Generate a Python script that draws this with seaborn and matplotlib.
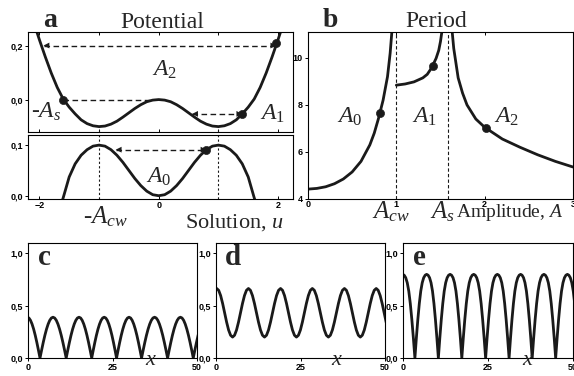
import matplotlib
matplotlib.use("Agg")
import matplotlib.pyplot as plt
import seaborn as sns
from matplotlib.ticker import FuncFormatter

# --- panel a: potential (u >= 0, mirrored) ---
pot_u_half = [0.0, 0.1, 0.2, 0.3, 0.4, 0.5, 0.6, 0.7, 0.8, 0.9, 1.0,
              1.1, 1.2, 1.3, 1.4, 1.5, 1.6, 1.7, 1.8, 1.9, 2.0, 2.1]
pot_top_half = [0.0, -0.002, -0.008, -0.019, -0.033, -0.049, -0.065, -0.080,
                -0.091, -0.098, -0.100, -0.097, -0.089, -0.075, -0.053, -0.028,
                0.002, 0.045, 0.098, 0.158, 0.222, 0.29]
pot_bot_half = [0.0, 0.002, 0.009, 0.020, 0.034, 0.050, 0.066, 0.080, 0.091,
                0.098, 0.100, 0.098, 0.091, 0.080, 0.063, 0.037, -0.004, -0.04]

top_dots_u = [-1.6, 1.4, 1.97]
top_dots_w = [0.0, -0.053, 0.21]
bot_dots_u = [0.8]
bot_dots_v = [0.091]

# --- panel b: period vs amplitude, three branches ---
b0_amp = [0.0, 0.1, 0.2, 0.3, 0.4, 0.5, 0.6, 0.7, 0.75, 0.8, 0.85, 0.9, 0.93, 0.96]
b0_per = [4.42, 4.45, 4.52, 4.65, 4.85, 5.15, 5.6, 6.3, 6.8, 7.45, 8.2, 9.2, 10.2, 11.6]
b1_amp = [1.0, 1.1, 1.2, 1.3, 1.35, 1.4, 1.45, 1.48, 1.5, 1.53]
b1_per = [8.84, 8.89, 8.98, 9.15, 9.3, 9.58, 9.98, 10.32, 10.7, 11.5]
b2_amp = [1.62, 1.65, 1.7, 1.75, 1.8, 1.9, 2.0, 2.2, 2.4, 2.6, 2.8, 3.0]
b2_per = [11.6, 10.4, 9.15, 8.5, 8.0, 7.4, 7.05, 6.55, 6.2, 5.88, 5.6, 5.36]
b_dots_amp = [0.81, 1.41, 2.02]
b_dots_per = [7.64, 9.67, 7.0]
a_cw = 1.0
a_s = 1.58

# --- panels c, d, e: turning points of |u(x)| and half-swing shapes ---
c_turn_x = [-0.2, 3.55, 7.4, 11.3, 15.1, 18.85, 22.55, 26.2, 29.9, 33.6,
            37.45, 41.3, 45.1, 48.9, 52.7]
c_turn_y = [0.39, 0.0, 0.39, 0.0, 0.39, 0.0, 0.39, 0.0, 0.39, 0.0,
            0.39, 0.0, 0.39, 0.0, 0.39]
d_turn_x = [-4.5, 0.2, 4.9, 9.6, 14.35, 19.1, 23.8, 28.5, 33.25, 38.0,
            42.7, 47.4, 52.1]
d_turn_y = [0.2, 0.665, 0.2, 0.665, 0.2, 0.665, 0.2, 0.665, 0.2, 0.665,
            0.2, 0.665, 0.2]
e_turn_x = [-0.1, 3.5, 6.95, 10.4, 13.85, 17.3, 20.8, 24.3, 27.75, 31.2,
            34.6, 38.0, 41.45, 44.9, 48.35, 51.8]
e_turn_y = [0.8, 0.0, 0.8, 0.0, 0.8, 0.0, 0.8, 0.0, 0.8, 0.0,
            0.8, 0.0, 0.8, 0.0, 0.8, 0.0]

swing_s = [0.0, 0.125, 0.25, 0.375, 0.5, 0.625, 0.75, 0.875, 1.0]
cusp_shape = [0.0, 0.195, 0.383, 0.556, 0.707, 0.831, 0.924, 0.981, 1.0]
steep_shape = [0.0, 0.24, 0.46, 0.65, 0.80, 0.90, 0.96, 0.99, 1.0]
smooth_shape = [0.0, 0.038, 0.146, 0.309, 0.5, 0.691, 0.854, 0.962, 1.0]

W_PX, H_PX = 574, 376
SERIF = ["Liberation Serif", "DejaVu Serif"]
TICK_FONT = dict(family="Liberation Sans", weight="bold", size=6.5)


def wave(turn_x, turn_y, shape):
    xs, ys = [], []
    for xa, xb, ya, yb in zip(turn_x[:-1], turn_x[1:], turn_y[:-1], turn_y[1:]):
        lo, hi = min(ya, yb), max(ya, yb)
        prof = shape if ya < yb else shape[::-1]
        for s, p in zip(swing_s[:-1], prof[:-1]):
            xs.append(xa + (xb - xa) * s)
            ys.append(lo + (hi - lo) * p)
    xs.append(turn_x[-1])
    ys.append(turn_y[-1])
    return xs, ys


def mirror(u, v):
    return [-a for a in u[:0:-1]] + u, v[:0:-1] + v


def comma(v, pos):
    return f"{v:.1f}".replace(".", ",")


def style_axes(ax):
    for sp in ax.spines.values():
        sp.set_color("black")
        sp.set_linewidth(0.8)
    ax.tick_params(direction="out", length=2.5, width=0.7, pad=1.2, colors="black")
    for lab in ax.get_xticklabels() + ax.get_yticklabels():
        lab.set_fontfamily(TICK_FONT["family"])
        lab.set_fontweight(TICK_FONT["weight"])
        lab.set_fontsize(TICK_FONT["size"])


def rect(left, top, right, bottom):
    return [left / W_PX, 1 - bottom / H_PX, (right - left) / W_PX, (bottom - top) / H_PX]


def ftext(fig, x, y, s, **kw):
    fig.text(x / W_PX, 1 - y / H_PX, s, va="baseline", **kw)


def dashed_arrow(ax, x0, x1, y, dx):
    ax.plot([x0, x1], [y, y], color="k", lw=1.0, ls=(0, (4, 2.5)))
    head = dict(arrowstyle="-|>,head_length=0.6,head_width=0.3", color="k",
                lw=0, shrinkA=0, shrinkB=0, mutation_scale=7)
    ax.annotate("", xy=(x0, y), xytext=(x0 + dx, y), arrowprops=head)
    ax.annotate("", xy=(x1, y), xytext=(x1 - dx, y), arrowprops=head)


sns.set_theme(style="ticks")
plt.rcParams["font.family"] = SERIF
plt.rcParams["mathtext.fontset"] = "custom"
plt.rcParams["mathtext.rm"] = "Liberation Serif"
plt.rcParams["mathtext.it"] = "Liberation Serif:italic"
plt.rcParams["mathtext.bf"] = "Liberation Serif:bold"

fig = plt.figure(figsize=(5.74, 3.76), dpi=100)
LW = 2.0
ALAB = 17

# ---------- a, upper: -V(u) ----------
ax_t = fig.add_axes(rect(28, 32, 293, 132))
u_t, w_t = mirror(pot_u_half, pot_top_half)
sns.lineplot(x=u_t, y=w_t, ax=ax_t, color="k", lw=LW, sort=False, estimator=None)
ax_t.set_xlim(-2.19, 2.25)
ax_t.set_ylim(-0.12, 0.25)
ax_t.set_xticks([-2, -1, 0, 1, 2])
ax_t.set_xticklabels([])
ax_t.set_yticks([0.0, 0.2])
ax_t.yaxis.set_major_formatter(FuncFormatter(comma))
ax_t.vlines([-a_cw, a_cw], -0.12, -0.1, color="k", lw=0.8, ls=(0, (2, 2)))
dashed_arrow(ax_t, -1.93, 1.97, 0.2, 0.12)
dashed_arrow(ax_t, 0.56, 1.4, -0.053, 0.12)
ax_t.plot([-1.6, -0.1], [0, 0], color="k", lw=1.0, ls=(0, (4, 2.5)))
sns.scatterplot(x=top_dots_u, y=top_dots_w, ax=ax_t, color="k", s=34,
                edgecolor="k", zorder=5)
ax_t.text(-0.12, 0.09, r"$A_{\mathit{2}}$", fontsize=ALAB)
ax_t.text(-2.14, -0.068, r"-$A_s$", fontsize=ALAB)
ax_t.text(1.69, -0.076, r"$A_{\mathit{1}}$", fontsize=ALAB)
ax_t.set_xlabel("")
ax_t.set_ylabel("")
style_axes(ax_t)
ax_t.tick_params(axis="x", direction="in", top=True, length=2.5)

# ---------- a, lower: V(u) ----------
ax_b = fig.add_axes(rect(28, 135, 293, 199))
u_b, v_b = mirror(pot_u_half[:len(pot_bot_half)], pot_bot_half)
sns.lineplot(x=u_b, y=v_b, ax=ax_b, color="k", lw=LW, sort=False, estimator=None)
ax_b.set_xlim(-2.19, 2.25)
ax_b.set_ylim(-0.0065, 0.12)
ax_b.set_xticks([-2, 0, 2])
ax_b.set_yticks([0.0, 0.1])
ax_b.yaxis.set_major_formatter(FuncFormatter(comma))
for xv in (-a_cw, a_cw):
    ax_b.axvline(xv, color="k", lw=0.8, ls=(0, (2, 2)))
dashed_arrow(ax_b, -0.72, 0.8, 0.091, 0.12)
sns.scatterplot(x=bot_dots_u, y=bot_dots_v, ax=ax_b, color="k", s=34,
                edgecolor="k", zorder=5)
ax_b.text(-0.21, 0.026, r"$A_{\mathit{0}}$", fontsize=ALAB)
ax_b.set_xlabel("")
ax_b.set_ylabel("")
style_axes(ax_b)
ax_b.tick_params(axis="x", direction="in", pad=1.5)

# ---------- b: period ----------
ax_p = fig.add_axes(rect(308, 32, 573, 199))
for amp, per in ((b0_amp, b0_per), (b1_amp, b1_per), (b2_amp, b2_per)):
    sns.lineplot(x=amp, y=per, ax=ax_p, color="k", lw=LW, sort=False, estimator=None)
for xv in (a_cw, a_s):
    ax_p.axvline(xv, color="k", lw=0.8, ls=(0, (3, 2)))
sns.scatterplot(x=b_dots_amp, y=b_dots_per, ax=ax_p, color="k", s=34,
                edgecolor="k", zorder=5)
ax_p.set_xlim(0, 3)
ax_p.set_ylim(4, 11.1)
ax_p.set_xticks([0, 1, 2, 3])
ax_p.set_yticks([4, 6, 8, 10])
ax_p.text(0.33, 7.26, r"$A_{\mathit{0}}$", fontsize=ALAB)
ax_p.text(1.18, 7.26, r"$A_{\mathit{1}}$", fontsize=ALAB)
ax_p.text(2.1, 7.23, r"$A_{\mathit{2}}$", fontsize=ALAB)
ax_p.set_xlabel("")
ax_p.set_ylabel("")
style_axes(ax_p)
ax_p.tick_params(axis="x", direction="in", top=True, pad=1.0)

# ---------- c, d, e: solutions ----------
waves = [
    (rect(28, 243, 197, 358), c_turn_x, c_turn_y, cusp_shape, "c", 38, 36.5),
    (rect(216, 243, 385, 358), d_turn_x, d_turn_y, smooth_shape, "d", 225, 35.7),
    (rect(403, 243, 573, 358), e_turn_x, e_turn_y, steep_shape, "e", 413, 36.8),
]
for box, tx, ty, shape, letter, lx, xpos in waves:
    ax = fig.add_axes(box)
    xs, ys = wave(tx, ty, shape)
    sns.lineplot(x=xs, y=ys, ax=ax, color="k", lw=LW, sort=False, estimator=None)
    ax.set_xlim(0, 50)
    ax.set_ylim(0, 1.1)
    ax.set_xticks([0, 25, 50])
    ax.set_yticks([0.0, 0.5, 1.0])
    ax.yaxis.set_major_formatter(FuncFormatter(comma))
    ax.set_xlabel("")
    ax.set_ylabel("")
    style_axes(ax)
    ax.text(xpos, -0.06, r"$x$", fontsize=16, ha="center", va="baseline",
            transform=ax.get_xaxis_transform())
    ftext(fig, lx, 265, letter, fontsize=21, fontweight="bold")

# ---------- figure texts ----------
ftext(fig, 43, 27, "a", fontsize=20, fontweight="bold")
ftext(fig, 120, 28, "Potential", fontsize=17)
ftext(fig, 323, 27, "b", fontsize=20, fontweight="bold")
ftext(fig, 405, 27, "Period", fontsize=17)
ftext(fig, 83, 223, r"-$A_{cw}$", fontsize=18)
ftext(fig, 185, 228, r"Solution, $u$", fontsize=16)
ftext(fig, 372, 218, r"$A_{cw}$", fontsize=18)
ftext(fig, 430, 218, r"$A_s$", fontsize=18)
ftext(fig, 456, 217, r"Amplitude, $A$", fontsize=14)

fig.savefig("out.png", dpi=100)
